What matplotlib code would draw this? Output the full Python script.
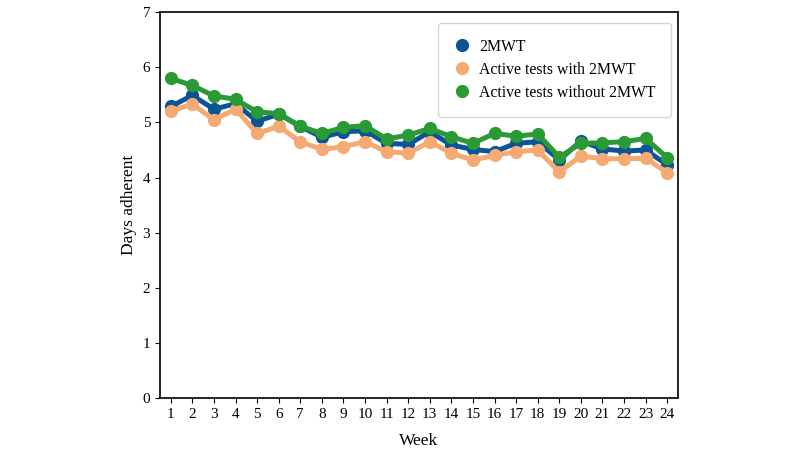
import matplotlib.pyplot as plt

plt.rcParams["font.family"] = ["Liberation Serif", "DejaVu Serif"]

weeks = list(range(1, 25))
two_mwt = [5.29, 5.49, 5.24, 5.34, 5.02, 5.15, 4.93, 4.73, 4.83, 4.85, 4.62, 4.60,
           4.83, 4.59, 4.51, 4.47, 4.62, 4.65, 4.32, 4.66, 4.52, 4.48, 4.50, 4.23]
with_2mwt = [5.21, 5.33, 5.05, 5.24, 4.80, 4.93, 4.65, 4.51, 4.56, 4.65, 4.47, 4.44,
             4.65, 4.44, 4.32, 4.40, 4.47, 4.50, 4.10, 4.39, 4.34, 4.34, 4.35, 4.09]
without_2mwt = [5.80, 5.67, 5.48, 5.42, 5.19, 5.16, 4.93, 4.80, 4.91, 4.94, 4.70, 4.77,
                4.89, 4.74, 4.62, 4.80, 4.75, 4.79, 4.37, 4.62, 4.63, 4.65, 4.71, 4.36]
labels = ["2MWT", "Active tests with 2MWT", "Active tests without 2MWT"]
colors = ["#0b5596", "#f4aa72", "#2a9a35"]


def run_app():
    fig = plt.figure(figsize=(8, 4.51), dpi=100)
    ax = fig.add_axes([0.2, 0.1175, 0.6475, 0.8555])
    for series, label, color in zip([two_mwt, with_2mwt, without_2mwt], labels, colors):
        ax.plot(weeks, series, color=color, linewidth=3.6, marker="o",
                markersize=8.5, label=label)
    ax.set_xlim(0.5, 24.5)
    ax.set_ylim(0, 7)
    ax.set_xticks(weeks)
    ax.set_yticks(range(0, 8))
    ax.tick_params(labelsize=11)
    ax.set_xlabel("Week", fontsize=12.5, labelpad=9)
    ax.set_ylabel("Days adherent", fontsize=12.5, labelpad=4)
    for sp in ax.spines.values():
        sp.set_linewidth(1.2)
    leg = ax.legend(loc="upper right", bbox_to_anchor=(0.9865, 0.9715),
                    borderaxespad=0, fontsize=11.3, borderpad=1.0,
                    labelspacing=0.45, handlelength=1.0, handletextpad=0.6)
    for h in leg.legend_handles:
        h.set_linestyle("none")
    fig.savefig("out.png", dpi=100)


run_app()
